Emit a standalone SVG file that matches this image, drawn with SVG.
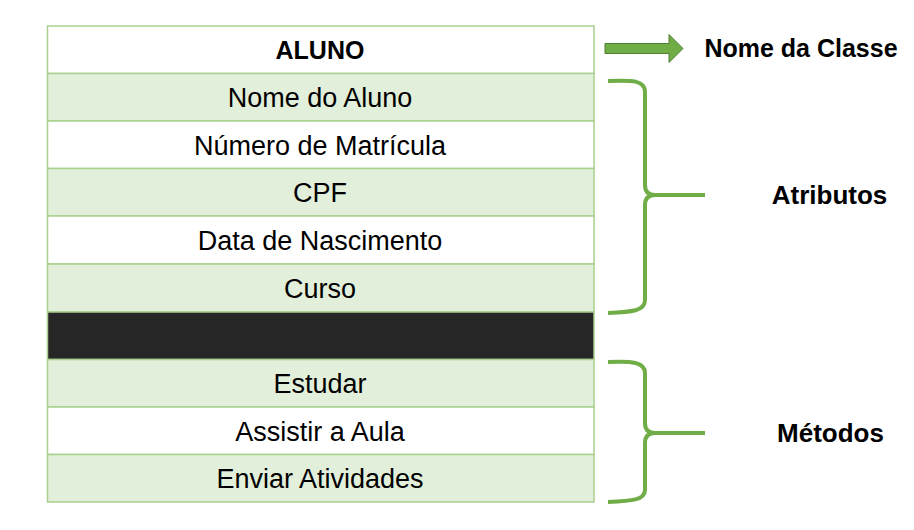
<svg xmlns="http://www.w3.org/2000/svg" width="914" height="530" viewBox="0 0 914 530">
<style>
.row{stroke:#A9D08E;stroke-width:1.5}
.g{fill:#E2EFDA}
.w{fill:#FFFFFF}
.k{fill:#262626}
.t{font-family:"Liberation Sans",Arial,sans-serif;font-size:27px;fill:#000;text-anchor:middle}
.b{font-family:"Liberation Sans",Arial,sans-serif;font-weight:bold;font-size:25px;fill:#000;text-anchor:middle}
.brace{fill:none;stroke:#70AD47;stroke-width:4;stroke-linecap:butt}
</style>
<rect width="914" height="530" fill="#fff"/>
<g id="classe">
<g id="r-aluno"><rect class="row w" x="47.5" y="26" width="546.5" height="47.5"/><text class="b" x="320" y="58.5">ALUNO</text></g>
<g id="r-nome"><rect class="row g" x="47.5" y="73.5" width="546.5" height="47.5"/><text class="t" x="320" y="107">Nome do Aluno</text></g>
<g id="r-matricula"><rect class="row w" x="47.5" y="121" width="546.5" height="47.5"/><text class="t" x="320" y="154.5">Número de Matrícula</text></g>
<g id="r-cpf"><rect class="row g" x="47.5" y="168.5" width="546.5" height="47.5"/><text class="t" x="320" y="202">CPF</text></g>
<g id="r-data"><rect class="row w" x="47.5" y="216" width="546.5" height="48"/><text class="t" x="320" y="249.5">Data de Nascimento</text></g>
<g id="r-curso"><rect class="row g" x="47.5" y="264" width="546.5" height="48"/><text class="t" x="320" y="297.5">Curso</text></g>
<g id="r-sep"><rect class="row k" x="47.5" y="312" width="546.5" height="47.5"/></g>
<g id="r-estudar"><rect class="row g" x="47.5" y="359.5" width="546.5" height="47.5"/><text class="t" x="320" y="393">Estudar</text></g>
<g id="r-assistir"><rect class="row w" x="47.5" y="407" width="546.5" height="47.5"/><text class="t" x="320" y="440.5">Assistir a Aula</text></g>
<g id="r-enviar"><rect class="row g" x="47.5" y="454.5" width="546.5" height="47.5"/><text class="t" x="320" y="488">Enviar Atividades</text></g>
</g>
<g id="connectors">
<polygon points="605,43.5 669,43.5 669,34.5 683,48.5 669,62.5 669,53.5 605,53.5" fill="#70AD47" stroke="#507E32" stroke-width="1"/>
<path class="brace" d="M608,81 C632,80 645,80 645,92 L645,185 Q645,195 655,195 L705,195 M655,195 Q645,195 645,205 L645,300 C645,311 632,312 608,313"/>
<path class="brace" d="M608,362 C632,361 645,362 645,373 L645,423 Q645,433 655,433 L705,433 M655,433 Q645,433 645,443 L645,490 C645,500 632,501 608,502"/>
</g>
<g id="lbl-classe"><text class="b" x="801" y="57">Nome da Classe</text></g>
<g id="lbl-atributos"><text class="b" x="829.5" y="204" style="font-size:26px">Atributos</text></g>
<g id="lbl-metodos"><text class="b" x="830.5" y="442" style="font-size:26px">Métodos</text></g>
</svg>
